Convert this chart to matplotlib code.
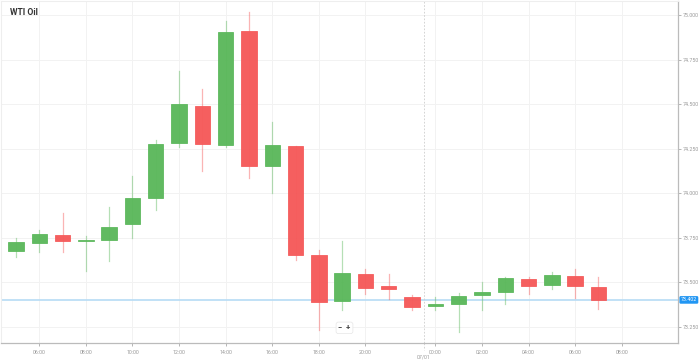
import numpy as np
import matplotlib.pyplot as plt
from matplotlib.patches import Rectangle

# hourly candles, 30/06 05:00 .. 07/01 07:00 (no 23:00 candle)
hours = ["05:00", "06:00", "07:00", "08:00", "09:00", "10:00", "11:00", "12:00",
         "13:00", "14:00", "15:00", "16:00", "17:00", "18:00", "19:00", "20:00",
         "21:00", "22:00", "00:00", "01:00", "02:00", "03:00", "04:00", "05:00",
         "06:00", "07:00"]
opens = [73.677, 73.722, 73.767, 73.730, 73.739, 73.829, 73.975, 74.283,
         74.492, 74.272, 74.913, 74.154, 74.267, 73.654, 73.396, 73.548,
         73.480, 73.419, 73.368, 73.379, 73.430, 73.447, 73.520, 73.486,
         73.537, 73.475]
highs = [73.750, 73.795, 73.890, 73.761, 73.924, 74.098, 74.300, 74.688,
         74.587, 74.969, 75.020, 74.402, 74.267, 73.683, 73.733, 73.576,
         73.548, 73.430, 73.419, 73.441, 73.503, 73.531, 73.531, 73.559,
         73.576, 73.531]
lows = [73.643, 73.671, 73.671, 73.565, 73.621, 73.750, 73.907, 74.261,
        74.126, 74.261, 74.087, 74.003, 73.626, 73.233, 73.346, 73.435,
        73.407, 73.346, 73.346, 73.222, 73.346, 73.379, 73.435, 73.463,
        73.413, 73.351]
closes = [73.728, 73.772, 73.733, 73.735, 73.812, 73.975, 74.278, 74.503,
          74.278, 74.907, 74.154, 74.272, 73.654, 73.390, 73.553, 73.469,
          73.463, 73.362, 73.379, 73.424, 73.447, 73.525, 73.480, 73.542,
          73.480, 73.402]
last_price = 73.402
y_ticks = [73.25, 73.5, 73.75, 74.0, 74.25, 74.5, 74.75, 75.0]
x_tick_labels = ["06:00", "08:00", "10:00", "12:00", "14:00", "16:00", "18:00",
                 "20:00", "00:00", "02:00", "04:00", "06:00", "08:00"]
x_tick_idx = [1, 3, 5, 7, 9, 11, 13, 15, 18, 20, 22, 24, 26]
day_label = "07/01"

GREEN = "#5cb85c"
RED = "#f55a5a"
plt.rcParams['font.family'] = ['Roboto', 'DejaVu Sans']

fig = plt.figure(figsize=(6.99, 3.62), dpi=100)
ax = fig.add_axes([0.0015, 0.0525, 0.968, 0.945])

w = 0.66
for i in range(len(opens)):
    o, h, l, c = opens[i], highs[i], lows[i], closes[i]
    col = GREEN if c >= o else RED
    ax.plot([i, i], [l, h], color=col, alpha=0.45, lw=0.9, zorder=2)
    bottom = min(o, c)
    height = max(abs(c - o), 0.006)
    ax.add_patch(Rectangle((i - w / 2, bottom), w, height, facecolor=col,
                           edgecolor=col, lw=0.6, alpha=0.97, zorder=3))

ax.set_xlim(-0.64, 28.4)
ax.set_ylim(73.160, 75.081)

ax.axhline(last_price, color="#b6dcf5", lw=1.2, zorder=1)
ax.axvline(17.5, color="#cccccc", lw=0.6, ls=(0, (2, 2)), zorder=1)

ax.yaxis.tick_right()
ax.set_yticks(y_ticks)
ax.set_yticklabels(["%.3f" % v for v in y_ticks])
ax.set_xticks(x_tick_idx)
ax.set_xticklabels(x_tick_labels)
ax.tick_params(axis="both", labelsize=3.8, colors="#999999", length=2,
               width=0.5, pad=3)
ax.tick_params(axis="y", pad=2)
ax.grid(True, color="#f2f2f2", lw=0.7, zorder=0)
ax.set_axisbelow(True)

for side in ["top", "left"]:
    ax.spines[side].set_color("#eeeeee")
for side in ["right", "bottom"]:
    ax.spines[side].set_color("#bbbbbb")
    ax.spines[side].set_linewidth(0.9)

ax.text(0.013, 0.965, "WTI Oil", transform=ax.transAxes, fontsize=6.2,
        fontweight="bold", color="#333333", va="center", ha="left")

ax.annotate(day_label, (17.5, 0), xycoords=("data", "axes fraction"),
            xytext=(0, -8.5), textcoords="offset points", fontsize=3.8,
            color="#999999", ha="center", va="top")
ax.plot([17.5, 17.5], [0, -0.02], transform=ax.get_xaxis_transform(),
        color="#cccccc", lw=0.6, ls=(0, (2, 2)), clip_on=False)

ax.annotate("%.3f" % last_price, (1, last_price),
            xycoords=("axes fraction", "data"), xytext=(2.2, 0),
            textcoords="offset points", fontsize=3.8, color="white",
            ha="left", va="center",
            bbox=dict(boxstyle="round,pad=0.25", fc="#2196f3", ec="none"))

ax.text(14.1, 73.245, "\u2212  +", fontsize=5.5, color="#444444",
        ha="center", va="center", fontweight="bold",
        bbox=dict(boxstyle="round,pad=0.3", fc="white", ec="#e6e6e6", lw=0.5))

fig.savefig("out.png", dpi=100)
